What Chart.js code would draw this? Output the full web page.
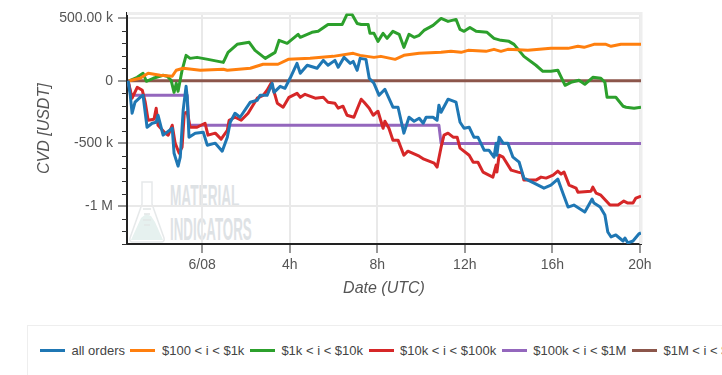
<!DOCTYPE html>
<html>
<head>
<meta charset="utf-8">
<style>
html, body { margin: 0; padding: 0; background: #fff; overflow: hidden; }
#page { position: relative; width: 722px; height: 375px; overflow: hidden; font-family: "Liberation Sans", Arial, sans-serif; }
#chart_cvd { position: absolute; left: 0; top: 0; }
#logo { position: absolute; left: 128px; top: 180px; }
.marca { position: absolute; left: 170px; font-family: "Liberation Sans", sans-serif; font-weight: bold; color: #dee2e5; font-size: 31px; line-height: 31px; transform-origin: left top; white-space: nowrap; }
#marca1 { top: 181px; transform: scaleX(0.44); }
#marca2 { top: 214px; transform: scaleX(0.43); }
#legenda { position: absolute; left: 27px; top: 325px; width: 760px; height: 60px; border: 1px solid #eeeeee; box-sizing: border-box; display: flex; align-items: center; padding: 0 0 10px 12px; white-space: nowrap; font-size: 13px; color: #444; }
#legenda i { display: inline-block; flex: none; width: 25px; height: 3px; margin-right: 6.5px; }
#legenda span { flex: none; margin-right: 5.5px; }
</style>
</head>
<body>
<div id="page">
    <svg id="logo" width="42" height="66" viewBox="0 0 42 66">
        <path d="M14 2 H24 V24 L36 58 Q37 62 33 62 H5 Q1 62 2 58 L14 24 Z" fill="none" stroke="#e6e9ea" stroke-width="1.5"/>
        <path d="M13 38 L18 34 L23 36 L27 42 L35 60 H3 Z" fill="#e6f1ef"/>
        <path d="M15 29 H23 M16 34 H22 M15 40 H23 M16 45 H22" stroke="#e2e6e6" stroke-width="1.5"/>
    </svg>
    <div class="marca" id="marca1">MATERIAL</div>
    <div class="marca" id="marca2">INDICATORS</div>
    <canvas id="chart_cvd" width="722" height="320"></canvas>
    <div id="legenda"></div>
</div>
<script src="https://cdn.jsdelivr.net/npm/chart.js@4"></script>
<script>
// minutes since 6/08 00:00 UTC, CVD in thousands of USDT
const horaTicks = [0, 240, 480, 720, 960, 1200];
const horaLabels = ['6/08', '4h', '8h', '12h', '16h', '20h'];
const cvdTicks = [500, 0, -500, -1000];
const cvdLabels = ['500.00 k', '0', '-500 k', '-1 M'];
const nomes = ['all orders', '$100 < i < $1k', '$1k < i < $10k', '$10k < i < $100k', '$100k < i < $1M', '$1M < i < $10M'];
const cores = ['#1f77b4', '#ff7f0e', '#2ca02c', '#d62728', '#9467bd', '#8c564b'];

const allTempo = [-203, -197, -192, -184, -170, -162, -151, -137, -126, -121, -107, -82, -77, -66, -60, -52, -44, -41, -36, -19, 3, 14, 36, 55, 69, 77, 90, 104, 132, 151, 159, 178, 192, 197, 214, 227, 241, 260, 269, 288, 315, 332, 345, 364, 373, 389, 406, 414, 425, 433, 449, 458, 471, 485, 501, 523, 537, 553, 567, 581, 595, 606, 614, 633, 644, 649, 655, 674, 696, 707, 718, 732, 745, 756, 773, 786, 800, 806, 808, 814, 825, 838, 852, 869, 882, 910, 937, 956, 975, 989, 1003, 1019, 1049, 1069, 1074, 1091, 1104, 1112, 1121, 1134, 1154, 1159, 1167, 1181, 1197, 1203];
const allValores = [0, -116, -259, -171, -132, -116, -371, -339, -331, -275, -434, -379, -578, -681, -610, -235, -44, -132, -450, -418, -410, -514, -498, -562, -450, -331, -259, -291, -171, -155, -116, -116, -20, -92, -44, -60, 20, 139, 60, 124, 100, 163, 124, 163, 108, 187, 139, 155, 84, 179, 171, 20, -20, -116, -68, -211, -211, -418, -291, -323, -299, -339, -291, -291, -315, -195, -251, -147, -171, -331, -379, -371, -450, -450, -554, -554, -610, -498, -594, -450, -498, -498, -610, -650, -777, -817, -857, -833, -785, -897, -1008, -992, -1048, -944, -976, -1008, -1072, -1207, -1247, -1231, -1279, -1255, -1295, -1279, -1223, -1215];

const laranjaTempo = [-200, -170, -148, -115, -82, -71, -52, -5, 58, 69, 132, 167, 208, 236, 296, 359, 414, 433, 471, 490, 529, 553, 595, 655, 682, 710, 729, 778, 800, 819, 838, 893, 956, 1003, 1030, 1047, 1074, 1107, 1121, 1148, 1203];
const laranjaValores = [0, 20, 60, 44, 36, 84, 100, 84, 92, 84, 100, 132, 132, 171, 179, 195, 219, 203, 187, 195, 171, 203, 219, 227, 235, 227, 243, 235, 251, 235, 251, 243, 259, 259, 275, 267, 291, 291, 275, 291, 291];

const verdeTempo = [-200, -178, -162, -153, -134, -107, -96, -85, -77, -71, -66, -55, -44, -33, -14, 16, 58, 71, 96, 129, 145, 173, 200, 211, 233, 263, 269, 301, 318, 345, 384, 397, 411, 425, 436, 455, 460, 471, 482, 496, 507, 523, 540, 553, 567, 581, 595, 608, 633, 655, 674, 696, 707, 718, 734, 751, 781, 800, 819, 841, 855, 882, 915, 934, 956, 975, 995, 1011, 1033, 1049, 1071, 1093, 1104, 1110, 1134, 1154, 1162, 1184, 1203];
const verdeValores = [0, 28, 60, -4, 20, 44, 36, 4, -92, -20, -84, 84, 203, 179, 187, 171, 147, 227, 291, 307, 243, 179, 227, 323, 299, 371, 347, 387, 395, 450, 450, 530, 530, 458, 450, 450, 379, 379, 315, 379, 339, 395, 371, 267, 371, 347, 363, 402, 442, 498, 474, 490, 410, 395, 426, 395, 387, 339, 323, 315, 291, 195, 124, 76, 76, 84, -36, -12, 4, -28, 28, 20, -12, -132, -132, -203, -211, -219, -211];

const vermelhoTempo = [-203, -192, -178, -164, -156, -148, -132, -126, -121, -101, -93, -82, -74, -63, -55, -49, -41, -33, -14, 8, 16, 36, 52, 69, 74, 90, 107, 126, 151, 167, 178, 189, 200, 206, 222, 238, 260, 269, 282, 310, 332, 345, 364, 373, 386, 397, 416, 427, 436, 444, 458, 469, 482, 496, 501, 512, 523, 537, 553, 564, 595, 608, 622, 636, 644, 655, 663, 674, 688, 699, 707, 732, 743, 756, 770, 786, 797, 806, 808, 814, 825, 847, 866, 877, 882, 915, 929, 943, 962, 975, 984, 992, 1006, 1025, 1030, 1066, 1071, 1080, 1093, 1118, 1140, 1156, 1167, 1181, 1189, 1203];
const vermelhoValores = [0, -139, -52, -76, -171, -315, -307, -219, -355, -418, -434, -355, -498, -578, -530, -259, -251, -371, -371, -339, -434, -418, -466, -395, -315, -291, -315, -259, -139, -116, -76, -20, -116, -179, -211, -132, -100, -132, -108, -139, -132, -171, -179, -219, -203, -275, -291, -211, -147, -171, -219, -275, -243, -379, -323, -379, -474, -474, -594, -562, -602, -626, -642, -658, -689, -530, -434, -418, -450, -450, -538, -594, -650, -650, -729, -753, -769, -673, -729, -594, -610, -713, -729, -737, -793, -793, -769, -777, -753, -721, -745, -729, -833, -857, -889, -881, -849, -897, -913, -992, -992, -960, -976, -976, -936, -920];

const roxoTempo = [-203, -195, -41, -36, 649, 655, 1203];
const roxoValores = [0, -116, -116, -355, -355, -500, -500];

const marromTempo = [-203, 1203];
const marromValores = [0, 0];

function juntar(tempo, valores) {
    return tempo.map(function (t, i) { return { x: t, y: valores[i] }; });
}

const series = [
    juntar(allTempo, allValores),
    juntar(laranjaTempo, laranjaValores),
    juntar(verdeTempo, verdeValores),
    juntar(vermelhoTempo, vermelhoValores),
    juntar(roxoTempo, roxoValores),
    juntar(marromTempo, marromValores)
];

let datasets = [];
for (let i = 0; i < nomes.length; i++) {
    datasets.push({
        label: nomes[i],
        data: series[i],
        borderColor: cores[i],
        borderWidth: 3,
        borderJoinStyle: 'round',
        pointRadius: 0,
        tension: 0,
        fill: false
    });
}

// minor ticks on the left axis and the grey frame on top / right
const moldura = {
    id: 'moldura',
    beforeDatasetsDraw(chart) {
        const ctx = chart.ctx;
        const a = chart.chartArea;
        ctx.save();
        ctx.strokeStyle = '#eeeeee';
        ctx.lineWidth = 3;
        ctx.beginPath();
        ctx.moveTo(a.left, a.top);
        ctx.lineTo(a.right, a.top);
        ctx.lineTo(a.right, a.bottom);
        ctx.stroke();
        ctx.restore();
    },
    afterDraw(chart) {
        const ctx = chart.ctx;
        const y = chart.scales.y;
        ctx.save();
        ctx.strokeStyle = '#333333';
        ctx.lineWidth = 1;
        y.ticks.forEach(function (t) {
            if (cvdTicks.includes(t.value)) return;
            const py = Math.round(y.getPixelForValue(t.value)) + 0.5;
            ctx.beginPath();
            ctx.moveTo(y.right - 5, py);
            ctx.lineTo(y.right, py);
            ctx.stroke();
        });
        ctx.restore();
    }
};

const config_cvd = {
    type: 'line',
    data: { datasets: datasets },
    options: {
        responsive: false,
        animation: false,
        layout: { padding: { left: 35, right: 81, top: 13, bottom: 22 } },
        plugins: { legend: { display: false }, tooltip: { enabled: false } },
        scales: {
            x: {
                type: 'linear',
                min: -206,
                max: 1203,
                afterBuildTicks(scale) {
                    scale.ticks = horaTicks.map(function (v) { return { value: v }; });
                },
                afterFit(scale) { scale.height = 54; },
                grid: { color: '#e9e9e9', lineWidth: 2, tickLength: 9, tickColor: '#333333', tickWidth: 1, drawTicks: true },
                border: { color: '#222222', width: 2 },
                ticks: {
                    autoSkip: false,
                    maxRotation: 0,
                    padding: 4,
                    color: '#555555',
                    font: { family: 'Liberation Sans', size: 14 },
                    callback: function (v) { return horaLabels[horaTicks.indexOf(v)]; }
                },
                title: { display: true, text: 'Date (UTC)', color: '#555555', padding: { top: 5, bottom: 0 }, font: { family: 'Liberation Sans', size: 16, style: 'italic', weight: 'normal' } }
            },
            y: {
                min: -1303,
                max: 538,
                afterBuildTicks(scale) {
                    let lista = [];
                    for (let v = 500; v >= -1300; v -= 100) lista.push({ value: v });
                    scale.ticks = lista;
                },
                afterFit(scale) { scale.width = 92; },
                grid: {
                    lineWidth: 2,
                    tickLength: 9,
                    color: function (c) { return cvdTicks.includes(c.tick.value) ? '#e9e9e9' : 'rgba(0,0,0,0)'; },
                    tickColor: function (c) { return cvdTicks.includes(c.tick.value) ? '#333333' : 'rgba(0,0,0,0)'; },
                    tickWidth: 1
                },
                border: { color: '#222222', width: 2 },
                ticks: {
                    autoSkip: false,
                    padding: 5,
                    color: '#555555',
                    font: { family: 'Liberation Sans', size: 14 },
                    callback: function (v) {
                        const i = cvdTicks.indexOf(v);
                        return i >= 0 ? cvdLabels[i] : '';
                    }
                },
                title: { display: true, text: 'CVD [USDT]', color: '#555555', padding: { top: 0, bottom: 0 }, font: { family: 'Liberation Sans', size: 16, style: 'italic', weight: 'normal' } }
            }
        }
    },
    plugins: [moldura]
};

const chart_cvd = new Chart(document.getElementById('chart_cvd'), config_cvd);

// legend is plain html, it runs off the right edge like the original
const legenda = document.getElementById('legenda');
for (let i = 0; i < nomes.length; i++) {
    const linha = document.createElement('i');
    linha.style.background = cores[i];
    const texto = document.createElement('span');
    texto.textContent = nomes[i];
    legenda.appendChild(linha);
    legenda.appendChild(texto);
}
</script>
</body>
</html>
